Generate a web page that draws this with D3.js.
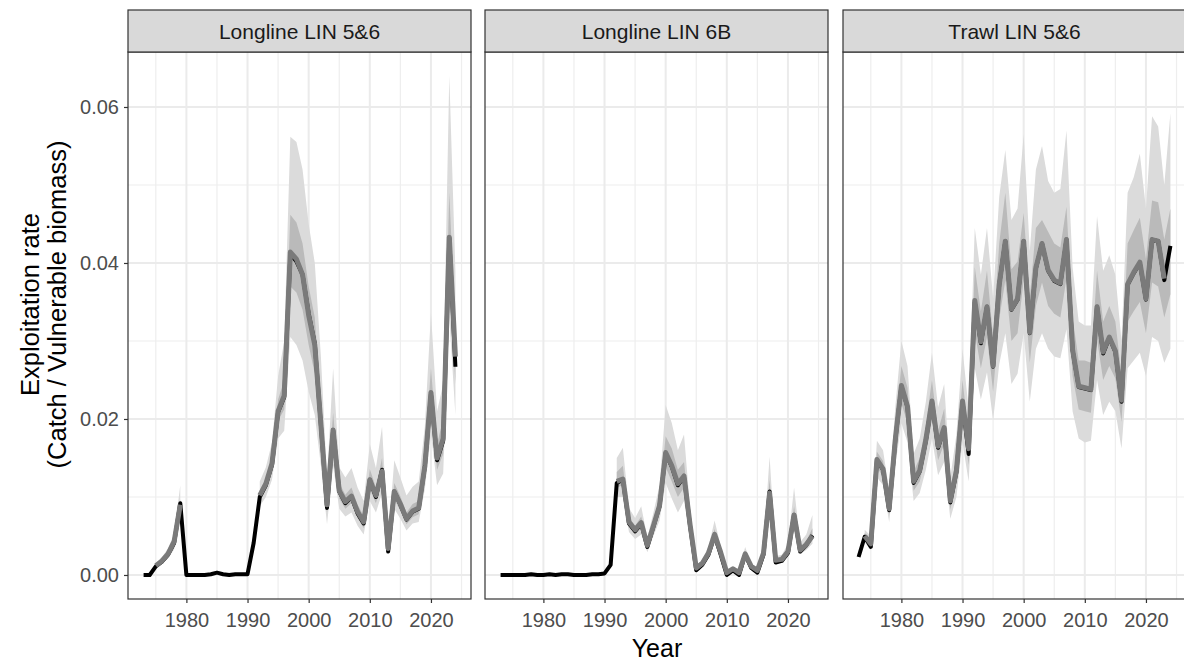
<!DOCTYPE html>
<html>
<head>
<meta charset="utf-8">
<script src="https://cdn.jsdelivr.net/npm/d3@7"></script>
<style>
  body { margin: 0; background: #fff; }
  svg { display: block; font-family: "Liberation Sans", Arial, Helvetica, sans-serif; }
</style>
</head>
<body>
<svg id="chart" width="1184" height="664"></svg>
<script>
const _ = null;

const panelTitles = ["Longline LIN 5&6", "Longline LIN 6B", "Trawl LIN 5&6"];

const years = [1973,1974,1975,1976,1977,1978,1979,1980,1981,1982,1983,1984,1985,1986,1987,1988,1989,
  1990,1991,1992,1993,1994,1995,1996,1997,1998,1999,2000,2001,2002,2003,2004,2005,2006,2007,2008,2009,
  2010,2011,2012,2013,2014,2015,2016,2017,2018,2019,2020,2021,2022,2023,2024];

const xTicks = [1980, 1990, 2000, 2010, 2020];
const xMinor = [1975, 1985, 1995, 2005, 2015, 2025];
const yTicks = [0, 0.02, 0.04, 0.06];
const yMinor = [0.01, 0.03, 0.05];

// ---- Longline LIN 5&6 ----
const ll56Mpd = [
  0, 0, 0.0011, 0.0017, 0.0026, 0.0041, 0.0092,
  0, 0, 0, 0, 0.0001, 0.0003, 0.0001, 0, 0.0001, 0.0001,
  0.0001, 0.0041, 0.0100, 0.0115, 0.0141, 0.0209, 0.0228, 0.0412, 0.0402, 0.0385,
  0.0335, 0.0297, 0.0192, 0.0086, 0.0186, 0.0107, 0.0092, 0.0100, 0.0079, 0.0066,
  0.0122, 0.0100, 0.0135, 0.0030, 0.0107, 0.0090, 0.0071, 0.0081, 0.0085, 0.0139,
  0.0232, 0.0147, 0.0172, 0.0432, 0.0267];
const ll56Med = [
  _, _, 0.0012, 0.0018, 0.0027, 0.0043, 0.0090,
  _, _, _, _, _, _, _, _, _, _,
  _, _, 0.0102, 0.0117, 0.0143, 0.0210, 0.0230, 0.0414, 0.0405, 0.0385,
  0.0333, 0.0295, 0.0193, 0.0090, 0.0186, 0.0108, 0.0094, 0.0101, 0.0081, 0.0068,
  0.0122, 0.0102, 0.0133, 0.0034, 0.0107, 0.0091, 0.0072, 0.0082, 0.0086, 0.0140,
  0.0234, 0.0150, 0.0175, 0.0433, 0.0280];
const ll56Lo95 = [
  _, _, 0.0009, 0.0014, 0.0021, 0.0033, 0.0072,
  _, _, _, _, _, _, _, _, _, _,
  _, _, 0.0088, 0.0100, 0.0122, 0.0175, 0.0185, 0.0305, 0.0295, 0.0275,
  0.0235, 0.0205, 0.0140, 0.0065, 0.0140, 0.0085, 0.0075, 0.0080, 0.0063, 0.0052,
  0.0095, 0.0080, 0.0105, 0.0026, 0.0085, 0.0072, 0.0057, 0.0066, 0.0068, 0.0110,
  0.0180, 0.0115, 0.0130, 0.0330, 0.0205];
const ll56Lo50 = [
  _, _, 0.0011, 0.0016, 0.0025, 0.0039, 0.0084,
  _, _, _, _, _, _, _, _, _, _,
  _, _, 0.0097, 0.0111, 0.0135, 0.0198, 0.0212, 0.0370, 0.0362, 0.0340,
  0.0295, 0.0258, 0.0170, 0.0080, 0.0165, 0.0098, 0.0085, 0.0092, 0.0073, 0.0060,
  0.0110, 0.0092, 0.0120, 0.0030, 0.0097, 0.0082, 0.0065, 0.0074, 0.0078, 0.0127,
  0.0210, 0.0135, 0.0155, 0.0390, 0.0245];
const ll56Hi50 = [
  _, _, 0.0013, 0.0020, 0.0029, 0.0046, 0.0097,
  _, _, _, _, _, _, _, _, _, _,
  _, _, 0.0108, 0.0124, 0.0152, 0.0225, 0.0250, 0.0462, 0.0452, 0.0425,
  0.0370, 0.0330, 0.0220, 0.0100, 0.0208, 0.0118, 0.0103, 0.0112, 0.0090, 0.0076,
  0.0136, 0.0112, 0.0150, 0.0038, 0.0118, 0.0101, 0.0080, 0.0091, 0.0095, 0.0156,
  0.0265, 0.0168, 0.0200, 0.0490, 0.0315];
const ll56Hi95 = [
  _, _, 0.0015, 0.0023, 0.0034, 0.0053, 0.0115,
  _, _, _, _, _, _, _, _, _, _,
  _, _, 0.0120, 0.0138, 0.0170, 0.0255, 0.0300, 0.0562, 0.0555, 0.0520,
  0.0450, 0.0400, 0.0280, 0.0125, 0.0265, 0.0138, 0.0125, 0.0137, 0.0112, 0.0095,
  0.0168, 0.0137, 0.0190, 0.0046, 0.0147, 0.0125, 0.0102, 0.0113, 0.0120, 0.0190,
  0.0336, 0.0210, 0.0245, 0.0640, 0.0390];

// ---- Longline LIN 6B ----
const ll6bMpd = [
  0, 0, 0, 0, 0, 0.0001, 0,
  0, 0.0001, 0, 0.0001, 0.0001, 0, 0, 0, 0.0001, 0.0001,
  0.0002, 0.0013, 0.0118, 0.0122, 0.0066, 0.0056, 0.0066, 0.0036, 0.0062, 0.0088,
  0.0156, 0.0139, 0.0115, 0.0126, 0.0062, 0.0006, 0.0013, 0.0026, 0.0051, 0.0026,
  0.0000, 0.0006, 0.0000, 0.0026, 0.0009, 0.0003, 0.0026, 0.0107, 0.0016, 0.0018,
  0.0028, 0.0077, 0.0030, 0.0038, 0.0051];
const ll6bMed = [
  _, _, _, _, _, _, _,
  _, _, _, _, _, _, _, _, _, _,
  _, _, 0.0120, 0.0123, 0.0068, 0.0058, 0.0067, 0.0038, 0.0063, 0.0089,
  0.0157, 0.0140, 0.0117, 0.0127, 0.0064, 0.0009, 0.0015, 0.0028, 0.0052, 0.0029,
  0.0003, 0.0008, 0.0003, 0.0027, 0.0011, 0.0006, 0.0028, 0.0105, 0.0019, 0.0020,
  0.0030, 0.0077, 0.0032, 0.0039, 0.0050];
const ll6bLo95 = [
  _, _, _, _, _, _, _,
  _, _, _, _, _, _, _, _, _, _,
  _, _, 0.0100, 0.0100, 0.0055, 0.0046, 0.0052, 0.0029, 0.0050, 0.0070,
  0.0118, 0.0098, 0.0080, 0.0095, 0.0047, 0.0005, 0.0011, 0.0022, 0.0040, 0.0022,
  0.0002, 0.0006, 0.0002, 0.0022, 0.0009, 0.0005, 0.0023, 0.0082, 0.0016, 0.0017,
  0.0025, 0.0062, 0.0027, 0.0032, 0.0040];
const ll6bLo50 = [
  _, _, _, _, _, _, _,
  _, _, _, _, _, _, _, _, _, _,
  _, _, 0.0112, 0.0115, 0.0062, 0.0052, 0.0060, 0.0034, 0.0057, 0.0080,
  0.0138, 0.0120, 0.0100, 0.0112, 0.0055, 0.0007, 0.0013, 0.0025, 0.0046, 0.0025,
  0.0002, 0.0007, 0.0002, 0.0025, 0.0010, 0.0005, 0.0026, 0.0094, 0.0018, 0.0019,
  0.0028, 0.0070, 0.0030, 0.0036, 0.0046];
const ll6bHi50 = [
  _, _, _, _, _, _, _,
  _, _, _, _, _, _, _, _, _, _,
  _, _, 0.0132, 0.0140, 0.0074, 0.0063, 0.0075, 0.0042, 0.0069, 0.0100,
  0.0178, 0.0162, 0.0135, 0.0145, 0.0073, 0.0010, 0.0017, 0.0031, 0.0059, 0.0032,
  0.0004, 0.0009, 0.0004, 0.0031, 0.0012, 0.0007, 0.0032, 0.0122, 0.0021, 0.0023,
  0.0034, 0.0088, 0.0036, 0.0044, 0.0060];
const ll6bHi95 = [
  _, _, _, _, _, _, _,
  _, _, _, _, _, _, _, _, _, _,
  _, _, 0.0150, 0.0163, 0.0086, 0.0073, 0.0088, 0.0048, 0.0080, 0.0115,
  0.0218, 0.0195, 0.0160, 0.0180, 0.0085, 0.0012, 0.0020, 0.0036, 0.0070, 0.0037,
  0.0005, 0.0011, 0.0005, 0.0036, 0.0014, 0.0008, 0.0037, 0.0152, 0.0024, 0.0026,
  0.0040, 0.0112, 0.0042, 0.0052, 0.0077];

// ---- Trawl LIN 5&6 ----
const trMpd = [
  0.0023, 0.0049, 0.0036, 0.0147, 0.0135, 0.0083, 0.0172,
  0.0242, 0.0215, 0.0118, 0.0133, 0.0172, 0.0222, 0.0163, 0.0188, 0.0093, 0.0132,
  0.0222, 0.0155, 0.0350, 0.0297, 0.0344, 0.0267, 0.0372, 0.0428, 0.0340, 0.0353,
  0.0428, 0.0310, 0.0393, 0.0425, 0.0390, 0.0377, 0.0373, 0.0430, 0.0288, 0.0241,
  0.0239, 0.0237, 0.0344, 0.0284, 0.0304, 0.0286, 0.0222, 0.0372, 0.0387, 0.0400,
  0.0353, 0.0430, 0.0428, 0.0378, 0.0422];
const trMed = [
  _, 0.0050, 0.0040, 0.0148, 0.0136, 0.0085, 0.0173,
  0.0243, 0.0216, 0.0120, 0.0134, 0.0173, 0.0223, 0.0165, 0.0189, 0.0095, 0.0134,
  0.0223, 0.0162, 0.0352, 0.0299, 0.0344, 0.0268, 0.0372, 0.0428, 0.0341, 0.0354,
  0.0428, 0.0311, 0.0394, 0.0425, 0.0391, 0.0378, 0.0374, 0.0430, 0.0289, 0.0242,
  0.0240, 0.0238, 0.0344, 0.0286, 0.0305, 0.0287, 0.0224, 0.0373, 0.0388, 0.0401,
  0.0354, 0.0430, 0.0428, 0.0380, _];
const trLo95 = [
  _, 0.0042, 0.0032, 0.0125, 0.0115, 0.0068, 0.0140,
  0.0195, 0.0170, 0.0095, 0.0105, 0.0135, 0.0175, 0.0128, 0.0145, 0.0072, 0.0100,
  0.0170, 0.0120, 0.0265, 0.0225, 0.0260, 0.0198, 0.0270, 0.0310, 0.0245, 0.0258,
  0.0310, 0.0222, 0.0290, 0.0310, 0.0290, 0.0280, 0.0278, 0.0315, 0.0210, 0.0175,
  0.0170, 0.0172, 0.0250, 0.0205, 0.0222, 0.0210, 0.0162, 0.0265, 0.0275, 0.0285,
  0.0255, 0.0305, 0.0300, 0.0272, 0.0290];
const trLo50 = [
  _, 0.0046, 0.0037, 0.0138, 0.0126, 0.0077, 0.0157,
  0.0220, 0.0195, 0.0108, 0.0120, 0.0155, 0.0200, 0.0147, 0.0168, 0.0084, 0.0118,
  0.0198, 0.0141, 0.0312, 0.0265, 0.0305, 0.0235, 0.0328, 0.0378, 0.0300, 0.0310,
  0.0378, 0.0272, 0.0345, 0.0375, 0.0345, 0.0335, 0.0330, 0.0380, 0.0255, 0.0212,
  0.0210, 0.0208, 0.0302, 0.0250, 0.0268, 0.0252, 0.0196, 0.0325, 0.0338, 0.0350,
  0.0310, 0.0375, 0.0370, 0.0330, 0.0360];
const trHi50 = [
  _, 0.0054, 0.0044, 0.0158, 0.0146, 0.0093, 0.0190,
  0.0268, 0.0240, 0.0133, 0.0150, 0.0193, 0.0250, 0.0185, 0.0213, 0.0107, 0.0152,
  0.0250, 0.0180, 0.0395, 0.0338, 0.0390, 0.0305, 0.0425, 0.0490, 0.0392, 0.0402,
  0.0464, 0.0355, 0.0445, 0.0455, 0.0440, 0.0425, 0.0420, 0.0472, 0.0330, 0.0275,
  0.0275, 0.0272, 0.0390, 0.0325, 0.0345, 0.0325, 0.0256, 0.0425, 0.0442, 0.0458,
  0.0405, 0.0480, 0.0478, 0.0430, 0.0470];
const trHi95 = [
  _, 0.0058, 0.0050, 0.0172, 0.0160, 0.0108, 0.0215,
  0.0300, 0.0268, 0.0155, 0.0175, 0.0222, 0.0285, 0.0215, 0.0245, 0.0125, 0.0180,
  0.0290, 0.0212, 0.0445, 0.0385, 0.0445, 0.0355, 0.0485, 0.0545, 0.0455, 0.0470,
  0.0565, 0.0415, 0.0520, 0.0550, 0.0505, 0.0490, 0.0495, 0.0570, 0.0395, 0.0325,
  0.0320, 0.0320, 0.0460, 0.0390, 0.0410, 0.0385, 0.0300, 0.0490, 0.0510, 0.0540,
  0.0470, 0.0588, 0.0575, 0.0500, 0.0592];

const panelSeries = [
  { mpd: ll56Mpd, med: ll56Med, lo95: ll56Lo95, lo50: ll56Lo50, hi50: ll56Hi50, hi95: ll56Hi95 },
  { mpd: ll6bMpd, med: ll6bMed, lo95: ll6bLo95, lo50: ll6bLo50, hi50: ll6bHi50, hi95: ll6bHi95 },
  { mpd: trMpd,   med: trMed,   lo95: trLo95,   lo50: trLo50,   hi50: trHi50,   hi95: trHi95 }
];

// ---- layout ----
const panelLefts = [128, 485, 843];
const panelW = 343;
const stripTop = 10, stripH = 42;
const panelTop = stripTop + stripH;
const panelBottom = 599;
const panelH = panelBottom - panelTop;

const svg = d3.select("#chart");

const x = d3.scaleLinear().domain([1973 - 2.55, 2024 + 2.55]).range([0, panelW]);
const y = d3.scaleLinear().domain([-0.00308, 0.06705]).range([panelH, 0]);

const area = (lo, hi) => d3.area()
  .defined(d => d[lo] != null && d[hi] != null)
  .x(d => x(d.yr)).y0(d => y(d[lo])).y1(d => y(d[hi]));
const line = key => d3.line()
  .defined(d => d[key] != null)
  .x(d => x(d.yr)).y(d => y(d[key]));

panelTitles.forEach((title, i) => {
  const s = panelSeries[i];
  const rows = years.map((yr, k) => ({
    yr, mpd: s.mpd[k], med: s.med[k],
    lo95: s.lo95[k], lo50: s.lo50[k], hi50: s.hi50[k], hi95: s.hi95[k]
  }));

  const left = panelLefts[i];
  const g = svg.append("g").attr("transform", `translate(${left},${panelTop})`);

  const clipId = `clip-${i}`;
  g.append("clipPath").attr("id", clipId)
    .append("rect").attr("width", panelW).attr("height", panelH);

  const body = g.append("g").attr("clip-path", `url(#${clipId})`);
  body.append("rect").attr("width", panelW).attr("height", panelH).attr("fill", "#fff");

  // grid
  body.selectAll(".vminor").data(xMinor).join("line")
    .attr("x1", d => x(d)).attr("x2", d => x(d)).attr("y1", 0).attr("y2", panelH)
    .attr("stroke", "#eeeeee").attr("stroke-width", 1.2);
  body.selectAll(".hminor").data(yMinor).join("line")
    .attr("x1", 0).attr("x2", panelW).attr("y1", d => y(d)).attr("y2", d => y(d))
    .attr("stroke", "#eeeeee").attr("stroke-width", 1.2);
  body.selectAll(".vmajor").data(xTicks).join("line")
    .attr("x1", d => x(d)).attr("x2", d => x(d)).attr("y1", 0).attr("y2", panelH)
    .attr("stroke", "#ebebeb").attr("stroke-width", 2);
  body.selectAll(".hmajor").data(yTicks).join("line")
    .attr("x1", 0).attr("x2", panelW).attr("y1", d => y(d)).attr("y2", d => y(d))
    .attr("stroke", "#ebebeb").attr("stroke-width", 2);

  // credible intervals
  body.append("path").datum(rows).attr("d", area("lo95", "hi95")).attr("fill", "#dbdbdb");
  body.append("path").datum(rows).attr("d", area("lo50", "hi50")).attr("fill", "#bababa");

  // point estimate and posterior median
  body.append("path").datum(rows).attr("d", line("mpd"))
    .attr("fill", "none").attr("stroke", "#000").attr("stroke-width", 4)
    .attr("stroke-linejoin", "round");
  body.append("path").datum(rows).attr("d", line("med"))
    .attr("fill", "none").attr("stroke", "#7a7a7a").attr("stroke-width", 5)
    .attr("stroke-linejoin", "round");

  // panel border
  g.append("rect").attr("width", panelW).attr("height", panelH)
    .attr("fill", "none").attr("stroke", "#333").attr("stroke-width", 1.2);

  // strip
  svg.append("rect").attr("x", left).attr("y", stripTop).attr("width", panelW).attr("height", stripH)
    .attr("fill", "#d9d9d9").attr("stroke", "#333").attr("stroke-width", 1.2);
  svg.append("text").attr("x", left + panelW / 2).attr("y", stripTop + 29)
    .attr("text-anchor", "middle").attr("font-size", 21).attr("fill", "#1a1a1a")
    .text(title);

  // x axis
  const xa = g.append("g").attr("transform", `translate(0,${panelH})`)
    .call(d3.axisBottom(x).tickValues(xTicks).tickSize(4).tickPadding(10).tickFormat(d3.format("d")));
  xa.select(".domain").remove();
  xa.selectAll(".tick line").attr("stroke", "#333").attr("stroke-width", 1.2);
  xa.selectAll(".tick text").attr("fill", "#4d4d4d").attr("font-size", 20)
    .attr("font-family", null);

  // y axis on the first panel only
  if (i === 0) {
    const ya = g.append("g")
      .call(d3.axisLeft(y).tickValues(yTicks).tickSize(4).tickPadding(5).tickFormat(d3.format(".2f")));
    ya.select(".domain").remove();
    ya.selectAll(".tick line").attr("stroke", "#333").attr("stroke-width", 1.2);
    ya.selectAll(".tick text").attr("fill", "#4d4d4d").attr("font-size", 20)
      .attr("font-family", null);
  }
});

// axis titles
svg.append("text")
  .attr("x", (panelLefts[0] + panelLefts[2] + panelW) / 2).attr("y", 657)
  .attr("text-anchor", "middle").attr("font-size", 25).attr("fill", "#000")
  .text("Year");

const yMid = (stripTop + panelBottom) / 2;
const yTitle = svg.append("g").attr("transform", `translate(0,${yMid}) rotate(-90)`);
yTitle.append("text").attr("x", 0).attr("y", 39)
  .attr("text-anchor", "middle").attr("font-size", 25.5).attr("fill", "#000")
  .text("Exploitation rate");
yTitle.append("text").attr("x", 0).attr("y", 66)
  .attr("text-anchor", "middle").attr("font-size", 25.5).attr("fill", "#000")
  .text("(Catch / Vulnerable biomass)");
</script>
</body>
</html>
